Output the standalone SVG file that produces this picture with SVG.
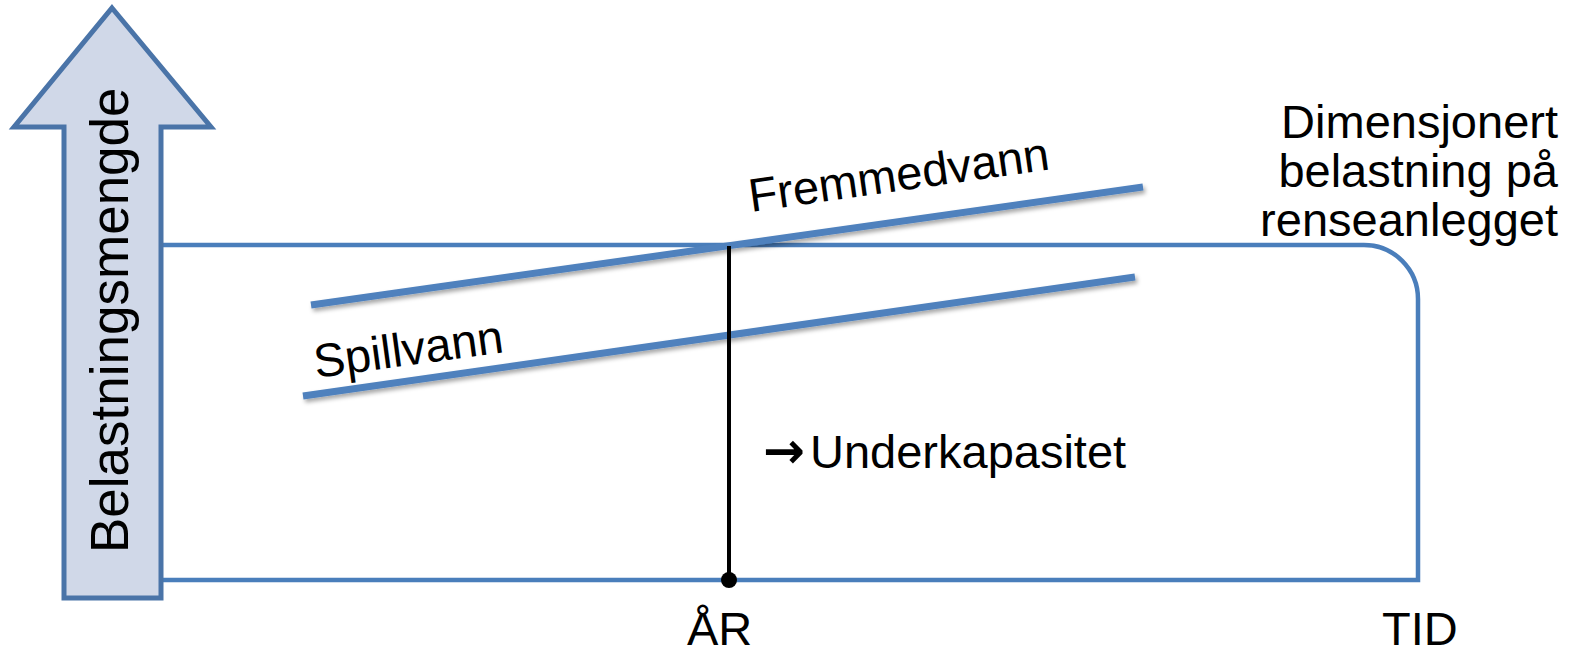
<svg xmlns="http://www.w3.org/2000/svg" width="1579" height="648" viewBox="0 0 1579 648">
  <style>
    .t { font-family: "Liberation Sans", Arial, sans-serif; font-size: 47px; fill: #000; }
    .box { fill: none; stroke: #4A7EBB; stroke-width: 4.5; }
    .trend { stroke: #4F81BD; stroke-width: 7; fill: none; }
  </style>
  <defs>
    <filter id="shadow" x="-5%" y="-50%" width="110%" height="200%">
      <feDropShadow dx="2" dy="3" stdDeviation="2" flood-color="#000" flood-opacity="0.35"/>
    </filter>
  </defs>
  <rect width="1579" height="648" fill="#fff"/>

  <g id="capacity-box">
    <path class="box" d="M161 245 H1364 A54 54 0 0 1 1418 299 V580 H161"/>
  </g>

  <g id="y-axis">
    <polygon points="112,8 211,127 161,127 161,598 64,598 64,127 14,127" fill="#D0D8E8" stroke="#4A74A8" stroke-width="5" stroke-linejoin="miter"/>
    <text class="t" style="font-size:53px" transform="translate(128,553) rotate(-90)">Belastningsmengde</text>
  </g>

  <g id="connectors">
    <line class="trend" x1="311" y1="305" x2="1143" y2="187" filter="url(#shadow)"/>
    <line class="trend" x1="303" y1="396" x2="1135" y2="277" filter="url(#shadow)"/>
    <line x1="729" y1="246" x2="729" y2="580" stroke="#000" stroke-width="4"/>
    <circle cx="729" cy="580" r="8" fill="#000"/>
  </g>

  <g id="fremmedvann-label">
    <text class="t" transform="translate(751,212) rotate(-8.1)">Fremmedvann</text>
  </g>
  <g id="spillvann-label">
    <text class="t" transform="translate(316,378) rotate(-7.8)">Spillvann</text>
  </g>

  <g id="dimensjonert-label">
    <text class="t" text-anchor="end"><tspan x="1558" y="138">Dimensjonert</tspan><tspan x="1558" y="187">belastning på</tspan><tspan x="1558" y="236">renseanlegget</tspan></text>
  </g>

  <g id="underkapasitet-label">
    <text class="t" y="468"><tspan x="763" style="font-family:'DejaVu Sans', sans-serif;font-weight:bold;font-size:50px">→</tspan><tspan x="810">Underkapasitet</tspan></text>
  </g>

  <g id="ar-label">
    <text class="t" x="687" y="645">ÅR</text>
  </g>
  <g id="tid-label">
    <text class="t" x="1382" y="645">TID</text>
  </g>
</svg>
